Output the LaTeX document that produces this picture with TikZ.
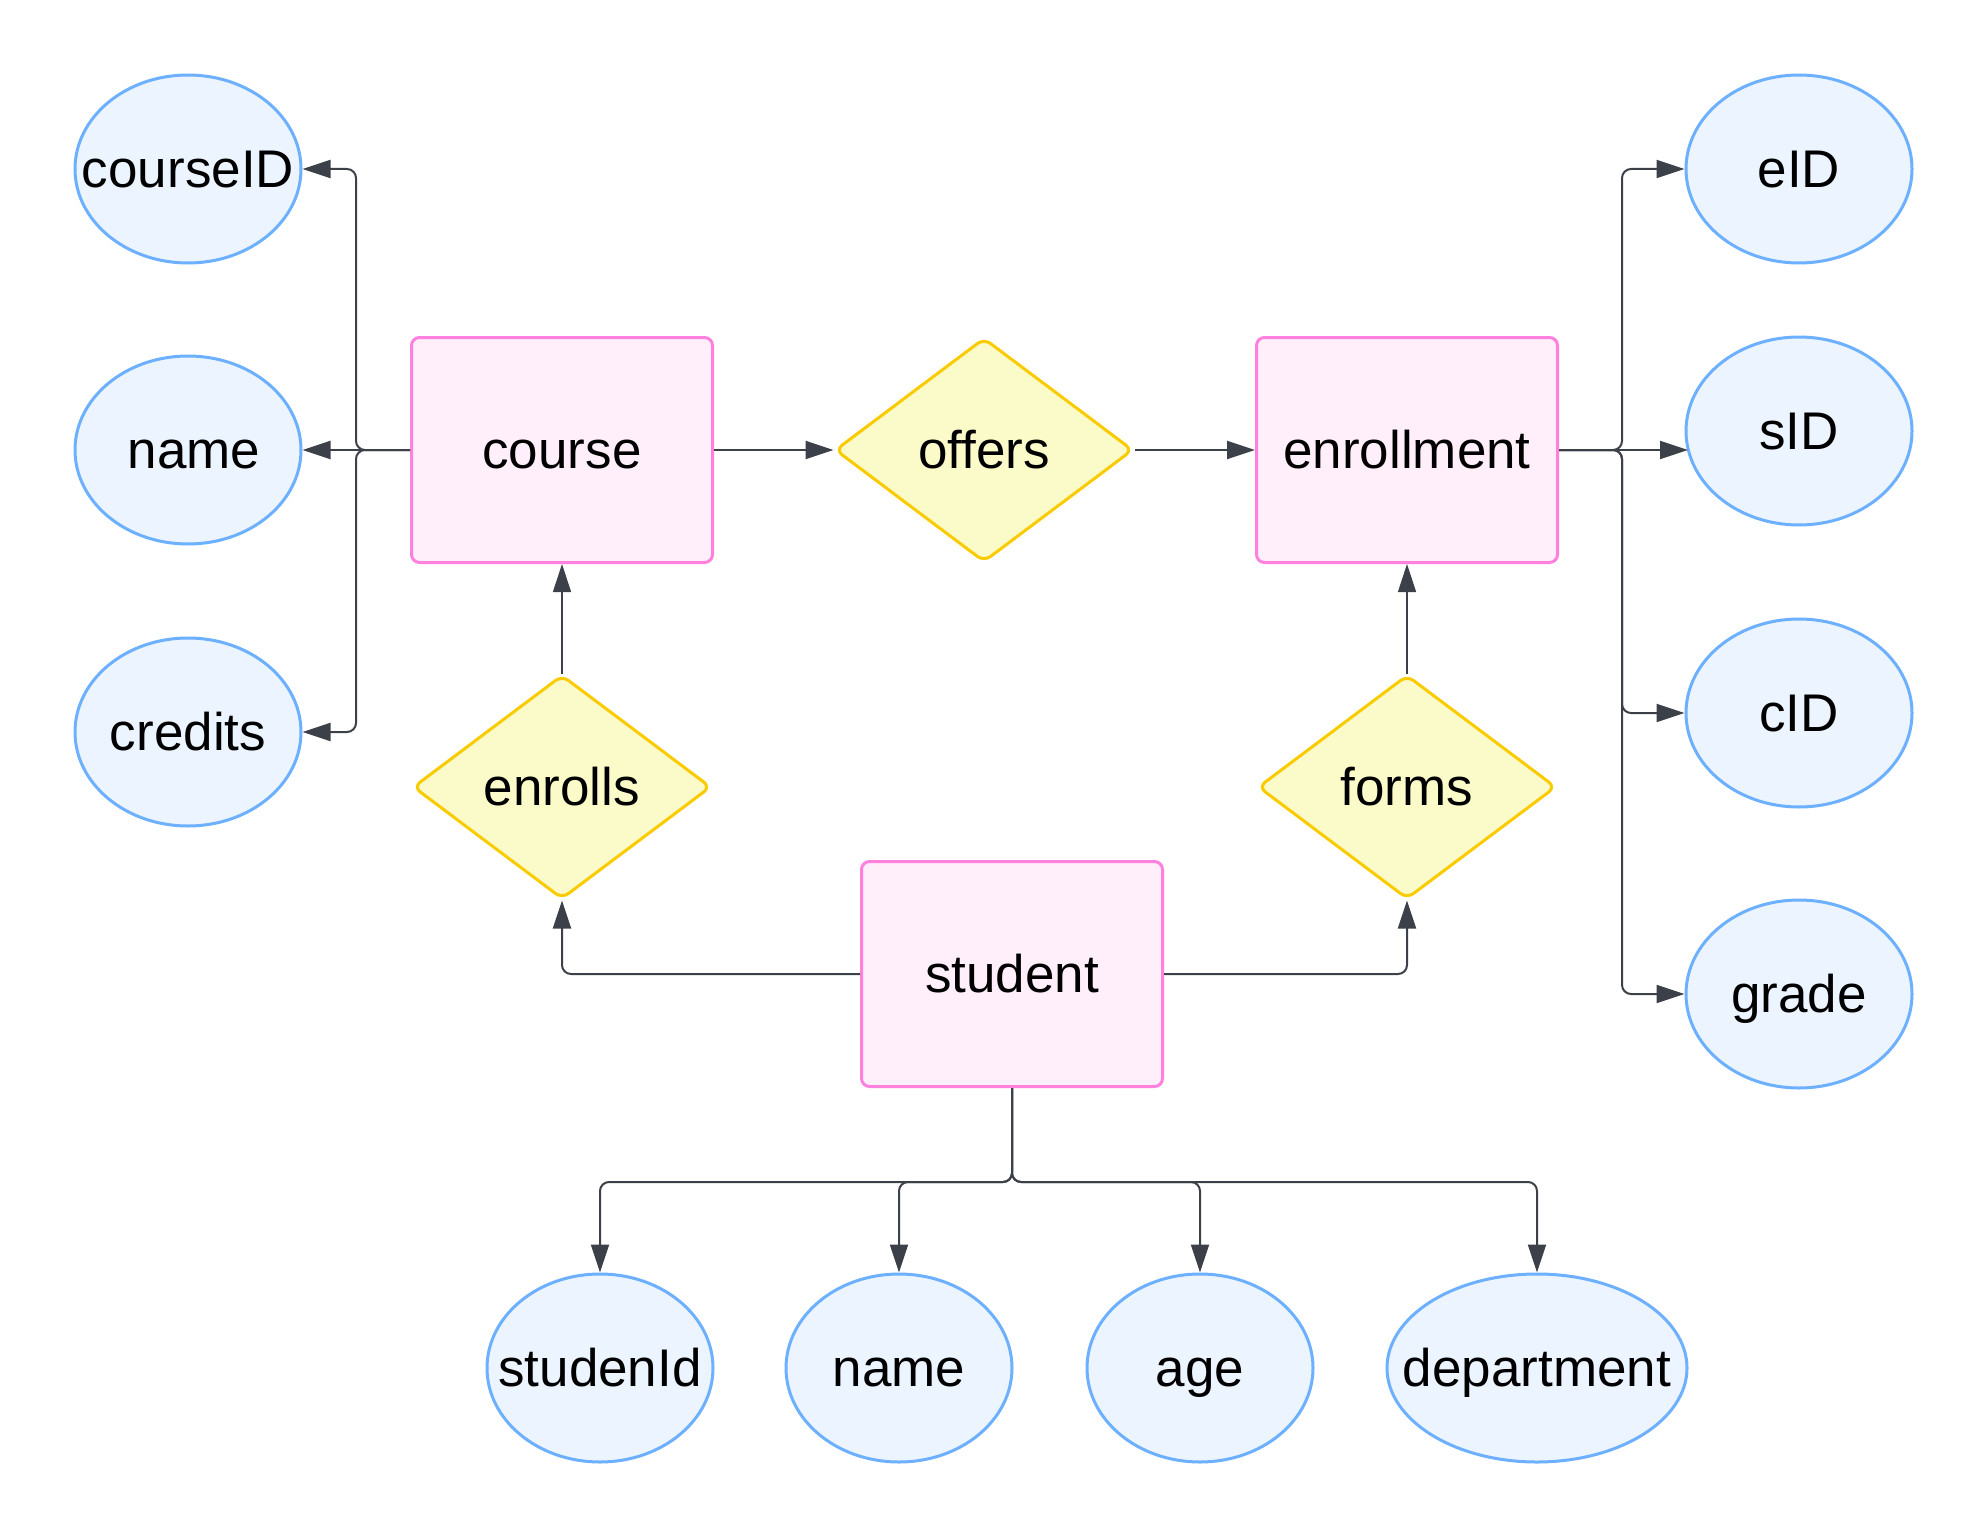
\documentclass[tikz,border=0pt]{standalone}
\usepackage{fontspec}
\setmainfont{Liberation Sans}
\usetikzlibrary{shapes.geometric,arrows.meta}
\definecolor{attrfill}{HTML}{EBF4FF}
\definecolor{attrdraw}{HTML}{6CB0FF}
\definecolor{entfill}{HTML}{FFEFFA}
\definecolor{entdraw}{HTML}{FF80DF}
\definecolor{relfill}{HTML}{FBFAC9}
\definecolor{reldraw}{HTML}{F9CB00}
\definecolor{linecol}{HTML}{3C4048}
\newcommand{\zw}[1]{\makebox[0pt][c]{#1}}
\tikzset{
  attr/.style={ellipse, draw=attrdraw, fill=attrfill, line width=3pt, minimum width=226pt, minimum height=188pt, inner sep=0pt, text height=37pt, text depth=0pt},
  entity/.style={rectangle, rounded corners=8pt, draw=entdraw, fill=entfill, line width=3pt, minimum width=301pt, minimum height=225pt, inner sep=0pt, text height=37pt, text depth=0pt},
  rel/.style={diamond, rounded corners=8pt, draw=reldraw, fill=relfill, line width=3pt, minimum width=298pt, minimum height=224pt, aspect=1.33, inner sep=0pt, text height=37pt, text depth=0pt},
  conn/.style={draw=linecol, line width=2pt, rounded corners=9pt, -{Triangle[length=28pt,width=18pt]}},
  thin conn/.style={conn, line width=1.2pt}
}
\begin{document}
\begin{tikzpicture}[x=1pt,y=-1pt,font=\fontsize{53}{64}\selectfont]
\useasboundingbox (0,0) rectangle (1988,1538);
% attributes left
\node[attr] (courseID) at (188,169) {\zw{courseID}};
\node[attr] (cname) at (188,450) {\zw{\hspace{12pt}name}};
\node[attr] (credits) at (188,732) {\zw{credits}};
% entities
\node[entity] (course) at (562,450) {\zw{course}};
\node[entity] (enrollment) at (1407,450) {\zw{enrollment}};
\node[entity] (student) at (1012,974) {\zw{student}};
% relationships
\node[rel] (offers) at (984,450) {\zw{offers}};
\node[rel] (enrolls) at (562,787) {\zw{enrolls}};
\node[rel] (forms) at (1407,787) {\zw{forms}};
% attributes right
\node[attr] (eID) at (1799,169) {\zw{eID}};
\node[attr] (sID) at (1799,431) {\zw{sID}};
\node[attr] (cID) at (1799,713) {\zw{cID}};
\node[attr] (grade) at (1799,994) {\zw{grade}};
% attributes bottom
\node[attr] (studenId) at (600,1368) {\zw{studenId}};
\node[attr] (sname) at (899,1368) {\zw{name}};
\node[attr] (age) at (1200,1368) {\zw{age}};
\node[attr, minimum width=300pt] (department) at (1537,1368) {\zw{department}};
% junctions
\coordinate (lj) at (356,450);
\coordinate (rj) at (1622,450);
\coordinate (bj) at (1012,1182);
\coordinate (sidin) at (1688,450);
% course attributes
\draw[conn] (course.west) -- (lj) |- (courseID.east);
\draw[conn] (course.west) -- (cname.east);
\draw[conn] (course.west) -- (lj) |- (credits.east);
% main row
\draw[conn] (course.east) -- (offers.west);
\draw[conn] (offers.east) -- (enrollment.west);
% vertical relations
\draw[thin conn] (enrolls.north) -- (course.south);
\draw[thin conn] (forms.north) -- (enrollment.south);
% student relations
\draw[conn] (student.west) -| (enrolls.south);
\draw[conn] (student.east) -| (forms.south);
% enrollment attributes
\draw[conn] (enrollment.east) -- (rj) |- (eID.west);
\draw[conn] (enrollment.east) -- (sidin);
\draw[conn] (enrollment.east) -- (rj) |- (cID.west);
\draw[conn] (enrollment.east) -- (rj) |- (grade.west);
% student attributes
\draw[conn] (student.south) -- (bj) -| (studenId.north);
\draw[conn] (student.south) -- (bj) -| (sname.north);
\draw[conn] (student.south) -- (bj) -| (age.north);
\draw[conn] (student.south) -- (bj) -| (department.north);
\end{tikzpicture}
\end{document}
